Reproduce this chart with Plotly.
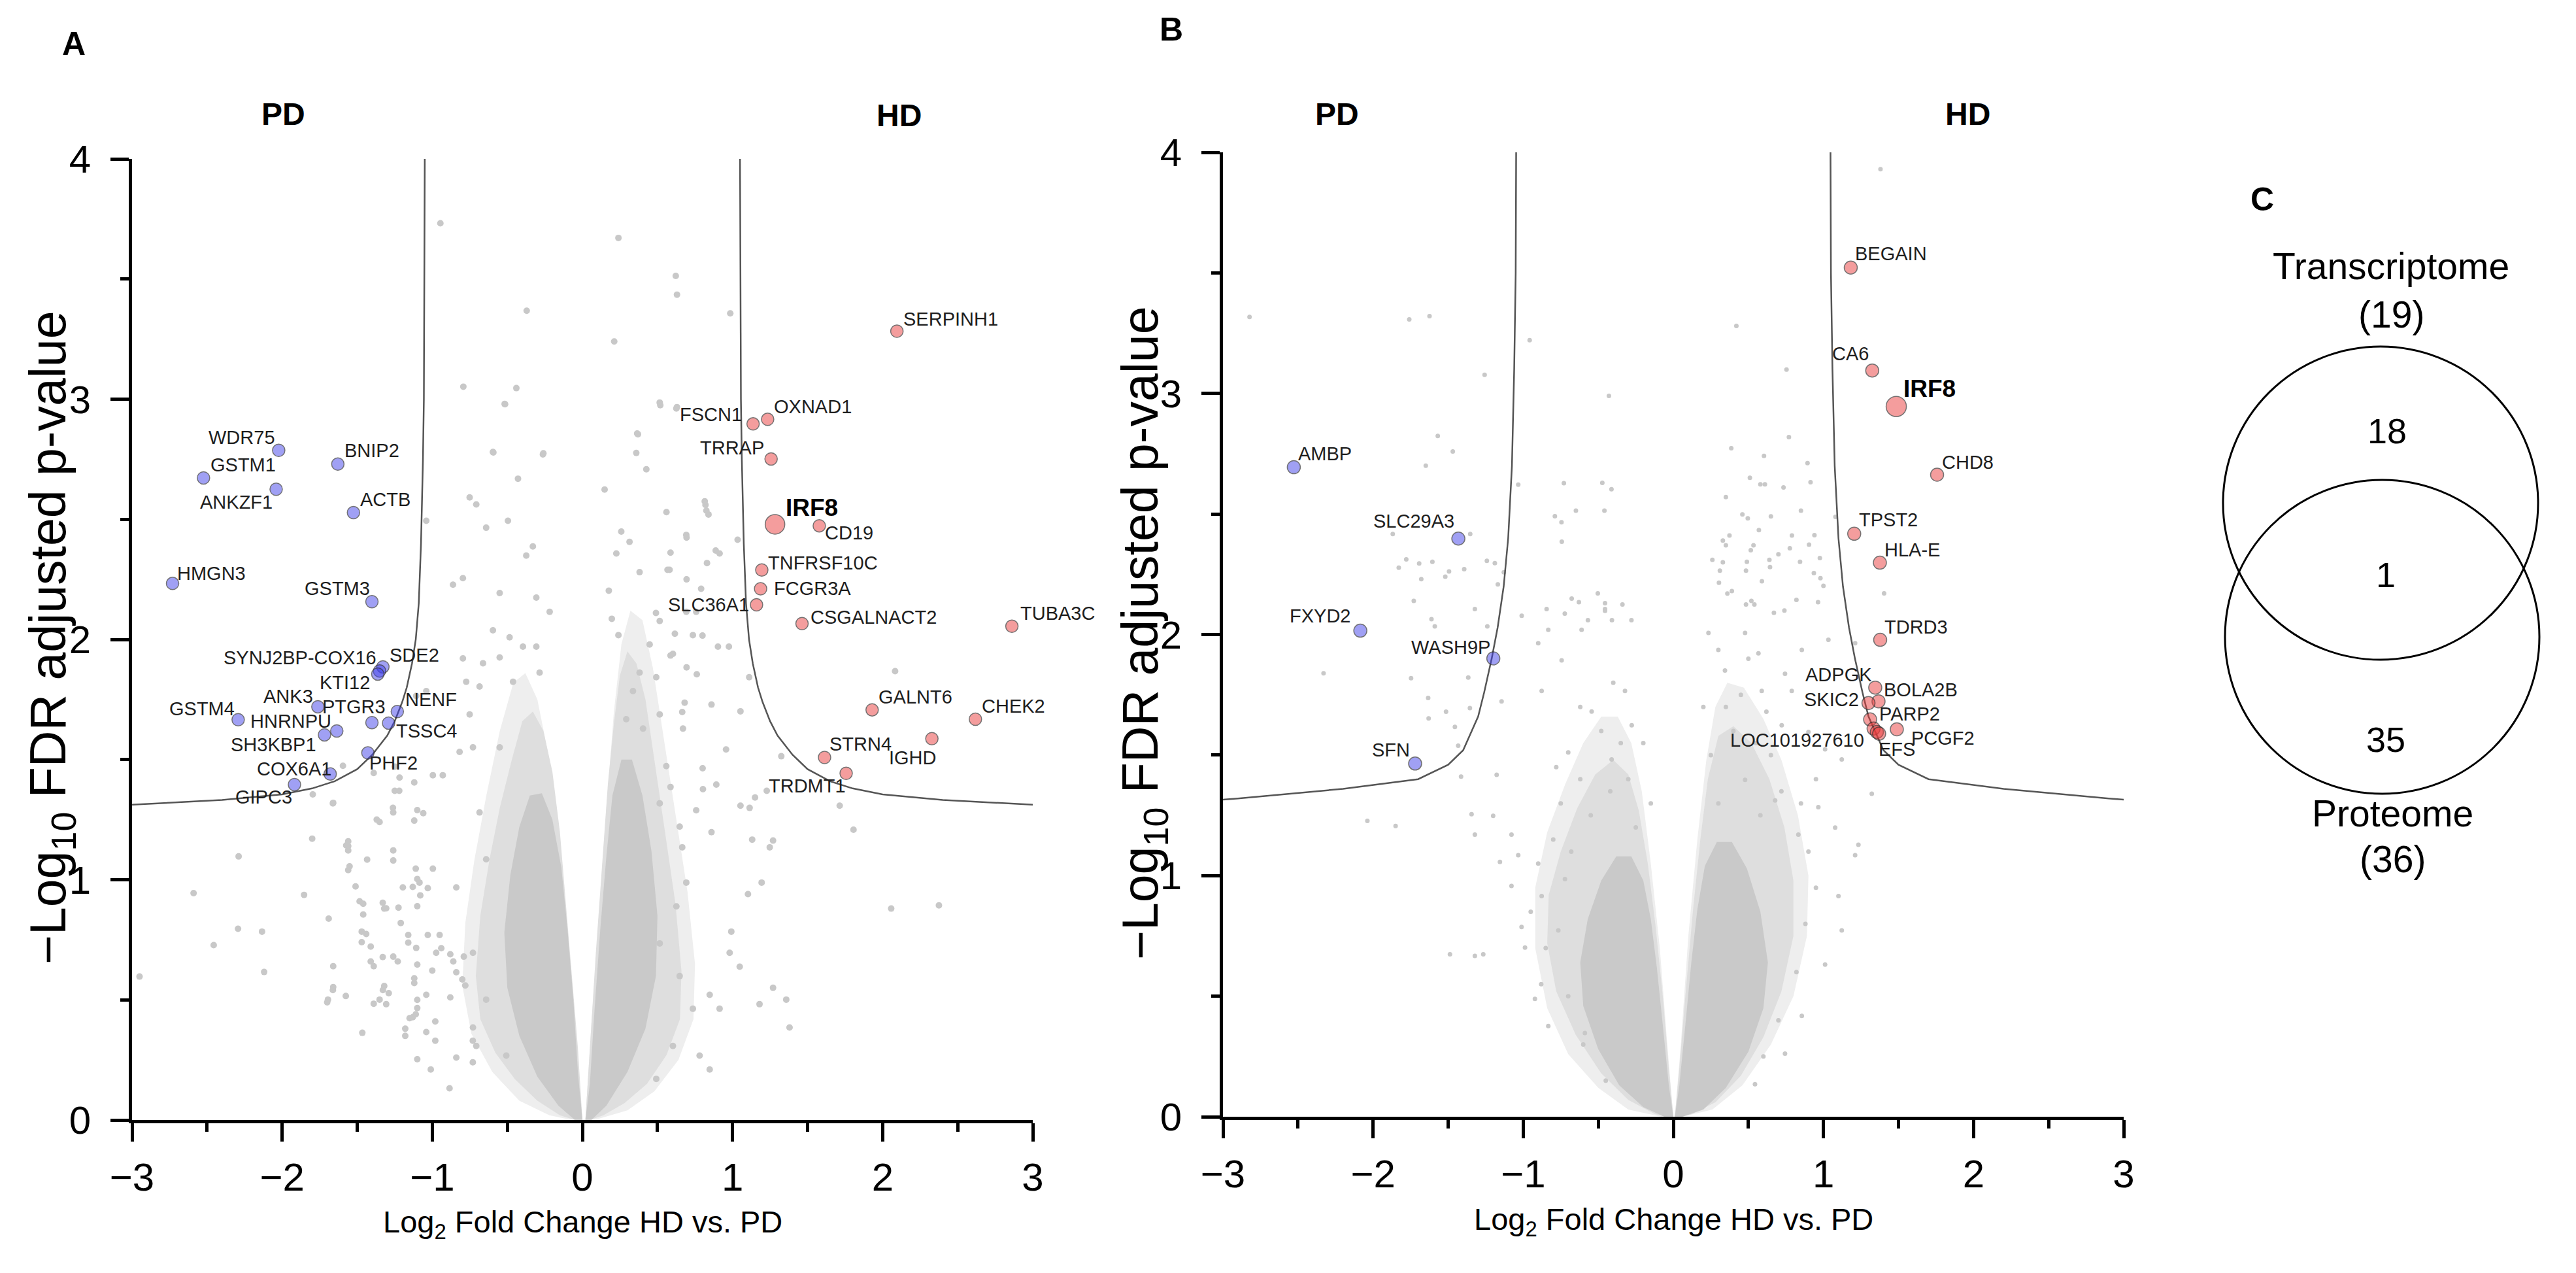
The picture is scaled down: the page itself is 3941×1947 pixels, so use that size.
import plotly.graph_objects as go

W, H = 3941, 1947

# ======================= DATA : panel A (transcriptome) =======================
a_pd_genes = ["WDR75", "GSTM1", "ANKZF1", "BNIP2", "ACTB", "HMGN3", "GSTM3",
              "SDE2", "SYNJ2BP-COX16", "KTI12", "ANK3", "PTGR3", "NENF", "TSSC4",
              "GSTM4", "HNRNPU", "SH3KBP1", "PHF2", "COX6A1", "GIPC3"]
a_pd_x = [-2.023, -2.524, -2.04, -1.629, -1.525, -2.73, -1.402,
          -1.329, -1.351, -1.363, -1.762, -1.402, -1.233, -1.291,
          -2.293, -1.636, -1.718, -1.429, -1.68, -1.918]
a_pd_y = [2.787, 2.672, 2.625, 2.73, 2.528, 2.233, 2.157,
          1.886, 1.869, 1.856, 1.72, 1.654, 1.70, 1.652,
          1.666, 1.619, 1.603, 1.528, 1.44, 1.396]

a_hd_genes = ["SERPINH1", "FSCN1", "OXNAD1", "TRRAP", "IRF8", "CD19", "TNFRSF10C",
              "FCGR3A", "SLC36A1", "CSGALNACT2", "TUBA3C", "GALNT6", "CHEK2",
              "IGHD", "STRN4", "TRDMT1"]
a_hd_x = [2.095, 1.137, 1.234, 1.257, 1.283, 1.578, 1.195,
          1.187, 1.16, 1.463, 2.861, 1.93, 2.618,
          2.328, 1.613, 1.757]
a_hd_y = [3.283, 2.897, 2.916, 2.751, 2.479, 2.473, 2.289,
          2.211, 2.144, 2.066, 2.055, 1.707, 1.668,
          1.587, 1.509, 1.443]

# threshold curve (|log2FC|, -log10 p), mirrored for PD side
a_curve_absx = [1.05, 1.052, 1.056, 1.062, 1.075, 1.09, 1.11, 1.135, 1.17, 1.2,
                1.25, 1.3, 1.4, 1.5, 1.65, 1.8, 2.0, 2.4, 3.0]
a_curve_y = [4.0, 3.5, 3.0, 2.75, 2.4, 2.15, 2.0, 1.9, 1.8, 1.74,
             1.66, 1.6, 1.52, 1.46, 1.41, 1.38, 1.355, 1.332, 1.312]

# dense gray cloud outlines (panel A): outer, middle and core density levels
a_outer_left_x = [0.0, -0.05, -0.1, -0.16, -0.22, -0.3, -0.38, -0.46, -0.55, -0.64, -0.72, -0.78, -0.8, -0.74, -0.6, -0.42, -0.22, -0.07]
a_outer_left_y = [0.0, 0.35, 0.75, 1.15, 1.5, 1.75, 1.86, 1.82, 1.62, 1.35, 1.08, 0.82, 0.56, 0.36, 0.2, 0.08, 0.02, 0.0]
a_halo_left_x = [0.0, -0.03, -0.07, -0.11, -0.15, -0.2, -0.26, -0.33, -0.4, -0.47, -0.55, -0.62, -0.68, -0.71, -0.68, -0.58, -0.45, -0.3, -0.15, -0.05]
a_halo_left_y = [0.0, 0.3, 0.6, 0.9, 1.2, 1.45, 1.62, 1.7, 1.66, 1.5, 1.3, 1.08, 0.85, 0.6, 0.42, 0.28, 0.17, 0.08, 0.02, 0.0]
a_core_left_x = [0.0, -0.03, -0.06, -0.1, -0.14, -0.2, -0.27, -0.35, -0.42, -0.48, -0.52, -0.5, -0.42, -0.3, -0.16, -0.05]
a_core_left_y = [0.0, 0.2, 0.5, 0.8, 1.05, 1.25, 1.36, 1.35, 1.22, 1.02, 0.78, 0.55, 0.35, 0.18, 0.06, 0.0]
a_outer_right_x = [0.02, 0.06, 0.11, 0.16, 0.21, 0.26, 0.32, 0.4, 0.47, 0.54, 0.62, 0.7, 0.75, 0.74, 0.64, 0.48, 0.3, 0.08]
a_outer_right_y = [0.0, 0.4, 0.85, 1.3, 1.7, 1.98, 2.12, 2.08, 1.88, 1.6, 1.28, 0.95, 0.65, 0.42, 0.25, 0.12, 0.04, 0.0]
a_halo_right_x = [0.02, 0.05, 0.09, 0.13, 0.17, 0.21, 0.25, 0.3, 0.36, 0.42, 0.48, 0.55, 0.62, 0.66, 0.65, 0.56, 0.43, 0.28, 0.14, 0.05]
a_halo_right_y = [0.0, 0.3, 0.7, 1.05, 1.4, 1.65, 1.85, 1.95, 1.9, 1.75, 1.5, 1.2, 0.9, 0.62, 0.42, 0.27, 0.15, 0.07, 0.02, 0.0]
a_core_right_x = [0.02, 0.05, 0.08, 0.12, 0.16, 0.2, 0.26, 0.33, 0.4, 0.46, 0.5, 0.49, 0.42, 0.3, 0.16, 0.06]
a_core_right_y = [0.0, 0.15, 0.45, 0.8, 1.1, 1.35, 1.5, 1.5, 1.35, 1.12, 0.85, 0.6, 0.38, 0.2, 0.06, 0.0]

# sparse background (non-significant) points, panel A
a_bg_x = [-0.946, 0.24, -0.371, 0.212, -0.793, -0.44, -0.515, 0.365, -0.593, -0.26,
          0.622, 0.63, 0.985, 0.519, 0.63, 0.82, 0.84, 0.56, 0.694, 0.587, 0.83, 1.034, 0.888,
          0.567, 0.694, 0.791, 0.49, 0.616, 0.8, 0.976, 0.694, 1.111, 1.053, 1.325, 1.15, 1.228,
          1.714, 2.083,
          -0.518, 0.515, 0.626, 0.37, 0.359, -0.596, -0.263, 0.426, -0.429, 0.148, -0.751, -0.707,
          0.815, 0.826, -0.496, -0.641, -1.04, 0.259, -0.33, -0.374, 0.314, 0.692, 0.226, 0.914,
          0.381, 0.581, -0.796, -0.862, -0.551, -0.307, 0.176, -0.218, 0.692, 0.758, 0.515, -0.596,
          -0.396, -0.485, 0.903, 0.736, 0.196, 0.24, -0.796, -0.662, -0.551, -0.307, 0.448, 0.603,
          0.492, 0.381, 0.681, 0.515, -0.751, -0.774, -0.685, -1.04, -1.107, -0.93, -0.996, -0.818,
          -0.729, 0.67, 0.892, 0.803, 0.758, 1.114, 1.27, 1.194, 1.103, 0.992, 0.981, 1.048, 0.848,
          0.736, 0.914, 0.848, 0.781, 1.27, 1.358, 1.18, 1.38, -1.573, -1.551, -1.484, -1.307, -1.44,
          -1.329, -1.351, -1.307, -1.151, -1.04, -1.04, -1.662, -1.695, -0.885, -1.218, -1.262,
          -1.351, -1.595, -1.662, -1.196, -1.085, -0.996, -0.84, -1.107, -0.974, -0.707, -0.729,
          0.626, 0.692, 0.515, 0.648, 0.603, 0.492, 0.559, 0.515, 0.648, 0.337, 0.292, 0.404,
          -0.285, -0.641, -0.685, -0.551, -0.462, -0.729, -0.641, -0.507,
          0.587, 0.762, 0.86, 0.665, 0.957, 0.801, 0.587, 1.053, 0.86, 0.665, 1.131, 1.248,
          1.806, 2.057, 2.375,
          -2.29, -2.59, -2.294, -2.134, -2.456, -2.95, -2.12, -1.854, -1.8, -1.66, -1.796, -1.56,
          -1.56, -1.56, -1.56, -1.434, -1.511, -1.69, -1.46, -1.46, -1.47, -1.47, -1.41, -1.41,
          -1.39, -1.33, -1.66, -1.66, -1.7, -1.576, -1.39, -1.32, -1.29, -1.466, -1.33, -1.225,
          -1.32, -1.26, -1.26, -1.25, -1.22, -1.26, -1.37, -1.39, -1.25, -1.12, -1.1, -1.06, -1.12,
          -1.11, -1.1, -1.13, -1.08, -1.03, -1.1, -1.21, -1.16, -1.16, -1.1, -1.0, -1.12, -1.12,
          -1.26, -1.23, -1.03, -0.951, -0.94, -0.88, -0.86, -0.79, -0.84, -0.8, -0.78, -1.1, -1.1,
          -1.13, -1.18, -1.18, -1.1, -1.01, -0.88, -0.84, -0.73, -0.73, -0.98, -0.98, -1.11]
a_bg_y = [3.732, 3.671, 3.368, 3.24, 3.052, 3.046, 2.979, 2.857, 2.778, 2.775,
          3.513, 3.435, 3.357, 2.975, 2.967, 2.56, 2.52, 2.53, 2.424, 2.361, 2.318, 2.415, 2.37,
          2.29, 2.25, 2.211, 2.11, 2.024, 2.016, 1.97, 1.884, 1.843, 1.701, 1.514, 1.342, 1.37,
          1.308, 1.868,
          2.98, 2.986, 2.961, 2.854, 2.776, 2.78, 2.77, 2.708, 2.669, 2.624, 2.591, 2.562,
          2.575, 2.536, 2.494, 2.465, 2.494, 2.449, 2.387, 2.349, 2.406, 2.435, 2.358, 2.358,
          2.28, 2.29, 2.255, 2.228, 2.193, 2.174, 2.203, 2.115, 2.115, 2.115, 2.077, 2.038,
          1.97, 2.009, 1.97, 2.018, 2.086, 2.018, 1.921, 1.901, 1.925, 1.97, 1.979, 1.94,
          1.843, 1.862, 1.737, 1.688, 1.688, 1.824, 1.804, 1.785, 1.765, 1.435, 1.435, 1.532,
          1.551, 1.629, 1.396, 1.377, 1.289, 1.299, 1.163, 0.988, 0.94, 0.784, 0.696, 0.638, 0.521,
          0.463, 0.463, 0.21, 0.268, 0.55, 0.501, 0.482, 0.385, 1.143, 1.056, 0.91, 0.881, 0.774,
          0.541, 0.501, 0.482, 0.424, 0.521, 0.366, 0.541, 0.501, 0.132, 1.425, 1.299,
          1.24, 1.474, 1.318, 0.968, 0.988, 1.046, 0.968, 0.716, 0.696, 0.308, 0.385,
          0.889, 0.988, 0.735, 0.599, 0.308, 0.171, 1.473, 1.318, 1.221, 1.785, 1.668, 1.629,
          1.862, 1.085, 1.28, 1.551, 1.824, 0.696, 0.501, 0.268,
          1.933, 1.855, 1.729, 1.698, 1.542, 1.464, 1.386, 1.308, 1.198, 1.135, 1.167, 1.135,
          1.208, 0.88, 0.893,
          1.097, 0.944, 0.796, 0.784, 0.728, 0.597, 0.616, 0.937, 1.171, 1.32, 1.355, 1.16,
          1.14, 1.122, 1.04, 1.084, 0.972, 0.838, 0.9, 0.855, 0.784, 0.74, 0.722, 0.66,
          0.64, 0.678, 0.64, 0.553, 0.49, 0.516, 0.484, 0.558, 0.528, 0.363, 0.904, 0.884,
          0.88, 1.08, 1.122, 1.37, 1.37, 1.28, 1.25, 1.444, 1.471, 1.405, 1.29, 1.277, 1.246,
          1.046, 1.003, 0.97, 0.935, 0.965, 0.89, 0.82, 0.77, 0.738, 0.647, 0.622, 0.59, 0.57,
          0.68, 0.66, 0.77, 0.77, 0.715, 0.69, 0.66, 0.68, 0.615, 0.585, 0.56, 0.5, 0.466,
          0.428, 0.38, 0.35, 0.253, 0.21, 0.51, 0.26, 0.24, 0.33, 0.41, 0.33, 0.44]

# ======================= DATA : panel B (proteome) =======================
b_pd_genes = ["AMBP", "SLC29A3", "FXYD2", "WASH9P", "SFN"]
b_pd_x = [-2.528, -1.432, -2.085, -1.199, -1.72]
b_pd_y = [2.694, 2.398, 2.016, 1.901, 1.465]

b_hd_genes = ["BEGAIN", "CA6", "IRF8", "CHD8", "TPST2", "HLA-E", "TDRD3", "ADPGK",
              "BOLA2B", "SKIC2", "PARP2", "LOC101927610", "", "EFS", "PCGF2"]
b_hd_x = [1.182, 1.325, 1.485, 1.757, 1.205, 1.376, 1.378, 1.345,
          1.367, 1.3, 1.311, 1.334, 1.356, 1.371, 1.489]
b_hd_y = [3.522, 3.095, 2.946, 2.663, 2.418, 2.298, 1.978, 1.78,
          1.723, 1.716, 1.648, 1.61, 1.596, 1.589, 1.607]

b_curve_absx = [1.047, 1.05, 1.06, 1.075, 1.1, 1.13, 1.17, 1.21, 1.26, 1.3,
                1.4, 1.5, 1.7, 2.2, 2.9, 3.0]
b_curve_y = [4.0, 3.5, 3.1, 2.7, 2.4, 2.2, 2.03, 1.9, 1.76, 1.66,
             1.52, 1.46, 1.4, 1.36, 1.32, 1.315]

b_outer_left_x = [0.0, -0.04, -0.09, -0.15, -0.21, -0.28, -0.37, -0.48, -0.6, -0.72, -0.84, -0.92, -0.92, -0.84, -0.7, -0.5, -0.3, -0.08]
b_outer_left_y = [0.0, 0.3, 0.7, 1.05, 1.35, 1.55, 1.66, 1.66, 1.55, 1.38, 1.18, 0.95, 0.7, 0.45, 0.26, 0.12, 0.03, 0.0]
b_halo_left_x = [0.0, -0.03, -0.07, -0.12, -0.17, -0.23, -0.3, -0.4, -0.52, -0.64, -0.75, -0.83, -0.84, -0.78, -0.65, -0.48, -0.3, -0.12, -0.03]
b_halo_left_y = [0.0, 0.2, 0.5, 0.8, 1.05, 1.27, 1.42, 1.48, 1.42, 1.28, 1.1, 0.92, 0.72, 0.52, 0.34, 0.18, 0.07, 0.01, 0.0]
b_core_left_x = [0.0, -0.03, -0.07, -0.11, -0.15, -0.2, -0.28, -0.38, -0.48, -0.57, -0.62, -0.6, -0.5, -0.36, -0.2, -0.06]
b_core_left_y = [0.0, 0.13, 0.38, 0.62, 0.82, 0.98, 1.08, 1.08, 0.98, 0.82, 0.64, 0.46, 0.28, 0.13, 0.04, 0.0]
b_outer_right_x = [0.01, 0.05, 0.1, 0.16, 0.22, 0.28, 0.36, 0.47, 0.6, 0.72, 0.83, 0.9, 0.89, 0.8, 0.65, 0.46, 0.26, 0.06]
b_outer_right_y = [0.0, 0.3, 0.75, 1.15, 1.48, 1.7, 1.8, 1.78, 1.65, 1.48, 1.25, 1.0, 0.75, 0.5, 0.3, 0.13, 0.03, 0.0]
b_halo_right_x = [0.01, 0.04, 0.08, 0.13, 0.18, 0.23, 0.3, 0.4, 0.52, 0.64, 0.74, 0.8, 0.8, 0.72, 0.6, 0.45, 0.28, 0.12, 0.03]
b_halo_right_y = [0.0, 0.2, 0.5, 0.85, 1.15, 1.4, 1.58, 1.62, 1.55, 1.4, 1.2, 0.98, 0.75, 0.52, 0.33, 0.17, 0.06, 0.01, 0.0]
b_core_right_x = [0.01, 0.04, 0.08, 0.12, 0.16, 0.21, 0.29, 0.39, 0.49, 0.58, 0.63, 0.6, 0.5, 0.35, 0.2, 0.06]
b_core_right_y = [0.0, 0.13, 0.38, 0.64, 0.86, 1.04, 1.14, 1.14, 1.03, 0.85, 0.64, 0.45, 0.27, 0.12, 0.03, 0.0]

b_bg_x = [-2.823, -1.759, -1.624, -0.957, -1.257, -0.429, -1.569, -1.469, -1.649, -1.033, -0.729,
          -0.473, -0.412, -0.649, -0.459, -0.789, -0.745, -0.743, -1.869, -1.353, -1.779, -1.829,
          -1.693, -1.605, -1.494, -1.393, -1.679, -1.519, -1.189, -1.129, -1.169, -1.729, -1.589,
          -1.239, -0.677, -0.629, -0.503, -0.455, -0.455, -0.339, -0.723, -0.569, -0.409, -0.279,
          1.38, 0.42, 0.754, 0.77, 0.386, 0.604, 0.894, 0.51, 0.58, 0.61, 0.734, 0.914, 0.35, 0.46,
          0.496, 0.65, 0.85, 1.08, 0.57, 0.374, 0.79, 0.94, 0.33, 0.35, 0.534, 0.516, 0.776, 0.904,
          0.7, 0.26, 0.33, 0.49, 0.64, 0.644, 0.844, 0.976, 0.31, 0.484, 0.936, 0.98, 1.0, 0.304,
          0.59, 0.36, 0.39, 1.404, 0.52, 0.484, 0.54, 0.82, 0.964, 0.74, 0.67,
          -2.33, -1.747, -1.242, -1.63, -1.514, -2.038, -1.85,
          -1.611, -1.322, -1.366, -1.633, -1.01, -0.844, -0.9, -0.833, -1.144, -1.355, -1.455,
          -1.433, -1.177, -1.414, -1.322, -1.2, -1.344, -1.078, -1.033, -1.155, -1.488, -1.322,
          -1.266, -1.011, -0.988, -0.877, -0.744, -0.611, -0.455, -0.322, -0.411, -0.277, -0.7,
          -0.544, -0.833, -0.589, -0.922, -0.766, -0.877, -0.722, -1.078,
          0.234, 0.344, 0.3, 0.478, 0.589, 0.744, 0.722, 0.9, 1.011, 1.122, 0.966, 1.078, 1.211,
          1.1, 1.122, 1.011, 0.856, 0.744, 0.544, 1.322, 1.233, 0.833, 0.678, 0.478, 0.789, 1.211,
          1.033, 0.856, 0.567,
          -0.35, -0.42, -0.55, -0.62, -0.75, -0.8, -0.68, -0.48, -0.3, -0.25, -0.9, -0.95, -0.85,
          -0.7, -0.6, -0.45, -0.88, -0.78, -0.62, -0.4, -0.2, -0.15,
          0.25, 0.35, 0.45, 0.55, 0.65, 0.72, 0.85, 0.9, 0.95, 0.88, 0.82, 0.7, 0.6, 0.4, 0.3,
          0.58, 0.2, 0.95, 0.5, 0.62]
b_bg_y = [3.317, 3.307, 3.321, 3.221, 3.077, 2.99, 2.824, 2.759, 2.7, 2.622, 2.628,
          2.629, 2.603, 2.514, 2.514, 2.491, 2.466, 2.385, 2.417, 2.417, 2.312, 2.277,
          2.295, 2.302, 2.262, 2.271, 2.23, 2.24, 2.296, 2.258, 2.208, 2.14, 2.034,
          2.034, 2.149, 2.134, 2.171, 2.13, 2.098, 2.125, 2.087, 2.06, 2.06, 2.06,
          3.93, 3.28, 3.099, 2.819, 2.773, 2.741, 2.711, 2.65, 2.623, 2.623, 2.61, 2.632, 2.57, 2.498,
          2.482, 2.49, 2.514, 2.488, 2.433, 2.411, 2.411, 2.412, 2.39, 2.37, 2.37, 2.35, 2.358, 2.373,
          2.333, 2.31, 2.3, 2.302, 2.31, 2.28, 2.302, 2.317, 2.265, 2.265, 2.255, 2.234, 2.202, 2.215,
          2.221, 2.17, 2.18, 2.171, 2.14, 2.125, 2.125, 2.144, 2.134, 2.1, 2.09,
          1.839, 1.819, 2.306, 1.652, 1.68, 1.227, 1.206,
          2.064, 2.106, 1.822, 1.737, 2.078, 2.106, 1.964, 2.02, 1.723, 1.695, 1.617,
          1.539, 1.418, 1.411, 1.17, 1.248, 1.255, 1.17, 1.085, 1.057, 0.674, 0.667,
          0.674, 0.787, 0.702, 1.766, 1.893, 2.02, 2.106, 1.766, 1.482, 1.624, 1.511,
          1.681, 0.376, 0.347, 0.489, 0.773, 0.915, 0.986, 0.957,
          2.007, 1.851, 1.936, 2.007, 1.766, 1.837, 1.624, 1.596, 1.524, 1.482, 1.284, 1.199, 1.085,
          0.915, 0.773, 0.631, 0.418, 0.262, 0.135, 1.34, 1.128, 1.17, 1.312, 1.397, 1.766, 1.964,
          1.978, 1.936, 1.922,
          1.55, 1.35, 1.25, 1.4, 1.3, 1.15, 1.1, 1.6, 1.4, 1.2, 1.05, 0.85, 0.7,
          0.5, 0.3, 0.15, 0.55, 1.45, 1.7, 1.8, 1.55, 1.3,
          1.5, 1.7, 1.75, 1.55, 1.5, 1.35, 1.3, 1.1, 0.95, 0.8, 0.6, 0.4, 0.25, 1.6, 1.3,
          1.25, 1.7, 1.4, 1.9, 1.68]

# ======================= DATA : panel C (Venn) =======================
venn_sets = ["Transcriptome", "Proteome"]
venn_set_sizes = [19, 36]
venn_region_counts = [18, 1, 35]   # transcriptome only, shared, proteome only

# ======================= STYLE =======================
GRAY = "rgb(200,200,200)"
BLUE = "rgba(62,62,234,0.7)"
RED = "rgba(234,59,59,0.7)"
OUT = "rgba(40,40,40,0.9)"
TXT = "#1e1e1e"
F = "Liberation Sans, Arial, sans-serif"

# label placement per gene: (xanchor, xshift px, yshift px)
lab_a = {
    "WDR75": ("right", -3, 20), "GSTM1": ("left", 9, 20), "ANKZF1": ("right", -3, -20),
    "BNIP2": ("left", 8, 21), "ACTB": ("left", 8, 20), "HMGN3": ("left", 5, 15),
    "GSTM3": ("right", -1, 20), "SDE2": ("left", 8, 18), "SYNJ2BP-COX16": ("right", -3, 20),
    "KTI12": ("right", -10, -13), "ANK3": ("right", -5, 16), "PTGR3": ("center", -28, 24),
    "NENF": ("left", 10, 18), "TSSC4": ("left", 9, -12), "GSTM4": ("right", -3, 17),
    "HNRNPU": ("right", -6, 15), "SH3KBP1": ("right", -10, -15), "PHF2": ("left", 0, -16),
    "COX6A1": ("right", 4, 8), "GIPC3": ("right", -2, -19),
    "SERPINH1": ("left", 8, 19), "FSCN1": ("right", -15, 14), "OXNAD1": ("left", 8, 19),
    "TRRAP": ("right", -9, 17), "IRF8": ("left", 14, 25), "CD19": ("left", 7, -11),
    "TNFRSF10C": ("left", 8, 11), "FCGR3A": ("left", 18, 0), "SLC36A1": ("right", -9, 0),
    "CSGALNACT2": ("left", 11, 10), "TUBA3C": ("left", 11, 20), "GALNT6": ("left", 8, 20),
    "CHEK2": ("left", 8, 20), "IGHD": ("right", 9, -29), "STRN4": ("left", 6, 20),
    "TRDMT1": ("right", 1, -19),
}
lab_b = {
    "AMBP": ("left", 5, 21), "SLC29A3": ("right", -4, 27), "FXYD2": ("right", -13, 23),
    "WASH9P": ("right", -3, 17), "SFN": ("right", -6, 21),
    "BEGAIN": ("left", 5, 21), "CA6": ("right", -3, 26), "IRF8": ("left", 9, 27),
    "CHD8": ("left", 5, 19), "TPST2": ("left", 5, 21), "HLA-E": ("left", 5, 20),
    "TDRD3": ("left", 5, 20), "ADPGK": ("right", -3, 20), "BOLA2B": ("left", 6, 18),
    "SKIC2": ("right", -13, 5), "PARP2": ("left", 12, 8), "LOC101927610": ("right", -12, -18),
    "EFS": ("left", -3, -24), "PCGF2": ("left", 20, -14),
}

# pixel layout of the two volcano panels
PA = dict(x0=202, x1=1580, ytop=243, ybot=1713)
PB = dict(x0=1871, x1=3249, ytop=233, ybot=1708)


def dom_x(p):
    return [p["x0"] / W, p["x1"] / W]


def dom_y(p):
    return [1 - p["ybot"] / H, 1 - p["ytop"] / H]


fig = go.Figure()

LEVEL_COLORS = ["rgb(238,238,238)", "rgb(222,222,222)", "rgb(201,201,201)"]


def add_panel(xr, yr, levels, bgx, bgy, bgsize, cabs, cy, pdx, pdy, pdg, hdx, hdy, hdg, ptsize, irfsize):
    for col, shapes_ in zip(LEVEL_COLORS, levels):
        for (px_, py_) in shapes_:
            fig.add_trace(go.Scatter(x=px_, y=py_, xaxis=xr, yaxis=yr, mode="lines", fill="toself",
                                     fillcolor=col, line=dict(width=0), hoverinfo="skip"))
    fig.add_trace(go.Scatter(x=bgx, y=bgy, xaxis=xr, yaxis=yr, mode="markers",
                             marker=dict(size=bgsize, color=GRAY), hoverinfo="skip"))
    # threshold curves
    fig.add_trace(go.Scatter(x=list(cabs), y=cy, xaxis=xr, yaxis=yr, mode="lines",
                             line=dict(color="#555555", width=2.5), hoverinfo="skip"))
    fig.add_trace(go.Scatter(x=[-v for v in cabs], y=cy, xaxis=xr, yaxis=yr, mode="lines",
                             line=dict(color="#555555", width=2.5), hoverinfo="skip"))
    # significant points
    fig.add_trace(go.Scatter(x=pdx, y=pdy, xaxis=xr, yaxis=yr, mode="markers", text=pdg,
                             marker=dict(size=[irfsize if g == "IRF8" else ptsize for g in pdg],
                                         color=BLUE, line=dict(color=OUT, width=1.5))))
    fig.add_trace(go.Scatter(x=hdx, y=hdy, xaxis=xr, yaxis=yr, mode="markers", text=hdg,
                             marker=dict(size=[irfsize if g == "IRF8" else ptsize for g in hdg],
                                         color=RED, line=dict(color=OUT, width=1.5))))


add_panel("x", "y",
          [[(a_outer_left_x, a_outer_left_y), (a_outer_right_x, a_outer_right_y)],
           [(a_halo_left_x, a_halo_left_y), (a_halo_right_x, a_halo_right_y)],
           [(a_core_left_x, a_core_left_y), (a_core_right_x, a_core_right_y)]],
          a_bg_x, a_bg_y, 10, a_curve_absx, a_curve_y,
          a_pd_x, a_pd_y, a_pd_genes, a_hd_x, a_hd_y, a_hd_genes, 19, 30)
add_panel("x2", "y2",
          [[(b_outer_left_x, b_outer_left_y), (b_outer_right_x, b_outer_right_y)],
           [(b_halo_left_x, b_halo_left_y), (b_halo_right_x, b_halo_right_y)],
           [(b_core_left_x, b_core_left_y), (b_core_right_x, b_core_right_y)]],
          b_bg_x, b_bg_y, 7, b_curve_absx, b_curve_y,
          b_pd_x, b_pd_y, b_pd_genes, b_hd_x, b_hd_y, b_hd_genes, 20, 31)

ann = []


def gene_labels(xr, yr, xs, ys, genes, placement):
    for x, y, g in zip(xs, ys, genes):
        if not g:
            continue
        xa, dx, dy = placement[g]
        bold = g == "IRF8"
        ann.append(dict(x=x, y=y, xref=xr, yref=yr, showarrow=False,
                        text=f"<b>{g}</b>" if bold else g,
                        xanchor=xa, yanchor="middle", xshift=dx, yshift=dy,
                        font=dict(family=F, size=37 if bold else 29, color="black" if bold else TXT)))


gene_labels("x", "y", a_pd_x, a_pd_y, a_pd_genes, lab_a)
gene_labels("x", "y", a_hd_x, a_hd_y, a_hd_genes, lab_a)
gene_labels("x2", "y2", b_pd_x, b_pd_y, b_pd_genes, lab_b)
gene_labels("x2", "y2", b_hd_x, b_hd_y, b_hd_genes, lab_b)


def px_ann(text, x, y, size, angle=0, xanchor="center", yanchor="middle"):
    ann.append(dict(text=text, x=x / W, y=1 - y / H, xref="paper", yref="paper", showarrow=False,
                    xanchor=xanchor, yanchor=yanchor, textangle=angle,
                    font=dict(family=F, size=size, color="black")))


# axis titles
px_ann("\u2212Log<sub>10</sub> FDR adjusted p-value", 78, 975, 77, angle=-90)
px_ann("\u2212Log<sub>10</sub> FDR adjusted p-value", 1749, 968, 77, angle=-90)
px_ann("Log<sub>2</sub> Fold Change HD vs. PD", 891, 1872, 47)
px_ann("Log<sub>2</sub> Fold Change HD vs. PD", 2560, 1868, 47)
# group headers
px_ann("<b>PD</b>", 433, 174, 48)
px_ann("<b>HD</b>", 1375, 176, 48)
px_ann("<b>PD</b>", 2045, 174, 48)
px_ann("<b>HD</b>", 3010, 174, 48)
# panel letters
px_ann("<b>A</b>", 113, 67, 50)
px_ann("<b>B</b>", 1792, 45, 50)
px_ann("<b>C</b>", 3461, 305, 50)
# Venn texts
px_ann(venn_sets[0], 3658, 407, 57)
px_ann(f"({venn_set_sizes[0]})", 3658, 481, 57)
px_ann(str(venn_region_counts[0]), 3652, 659, 54)
px_ann(str(venn_region_counts[1]), 3650, 879, 54)
px_ann(str(venn_region_counts[2]), 3650, 1131, 54)
px_ann(venn_sets[1], 3660, 1244, 57)
px_ann(f"({venn_set_sizes[1]})", 3660, 1314, 57)

shapes = [
    dict(type="circle", xref="paper", yref="paper", x0=3401 / W, x1=3883 / W,
         y0=1 - 1009 / H, y1=1 - 530 / H, line=dict(color="black", width=3)),
    dict(type="circle", xref="paper", yref="paper", x0=3404 / W, x1=3885 / W,
         y0=1 - 1214 / H, y1=1 - 734 / H, line=dict(color="black", width=3)),
]

axis_common = dict(showgrid=False, zeroline=False, showline=True, linewidth=5, linecolor="black",
                   ticks="outside", ticklen=28, tickwidth=5, tickcolor="black", automargin=False,
                   tickfont=dict(family=F, size=60, color="black"),
                   minor=dict(ticks="outside", ticklen=13, tickwidth=5, tickcolor="black",
                              dtick=0.5, showgrid=False))

fig.update_layout(
    width=W, height=H, margin=dict(l=0, r=0, t=0, b=0, autoexpand=False),
    paper_bgcolor="white", plot_bgcolor="white", showlegend=False,
    xaxis=dict(domain=dom_x(PA), anchor="y", range=[-3, 3], dtick=1, tick0=0,
               ticklabelstandoff=3, **axis_common),
    yaxis=dict(domain=dom_y(PA), anchor="x", range=[0, 4], dtick=1, tick0=0,
               ticklabelstandoff=18, **axis_common),
    xaxis2=dict(domain=dom_x(PB), anchor="y2", range=[-3, 3], dtick=1, tick0=0,
                ticklabelstandoff=3, **axis_common),
    yaxis2=dict(domain=dom_y(PB), anchor="x2", range=[0, 4], dtick=1, tick0=0,
                ticklabelstandoff=18, **axis_common),
    annotations=ann, shapes=shapes,
)

fig.write_html("out.html", config={"displayModeBar": False},
               post_script="document.body.style.margin='0';")
